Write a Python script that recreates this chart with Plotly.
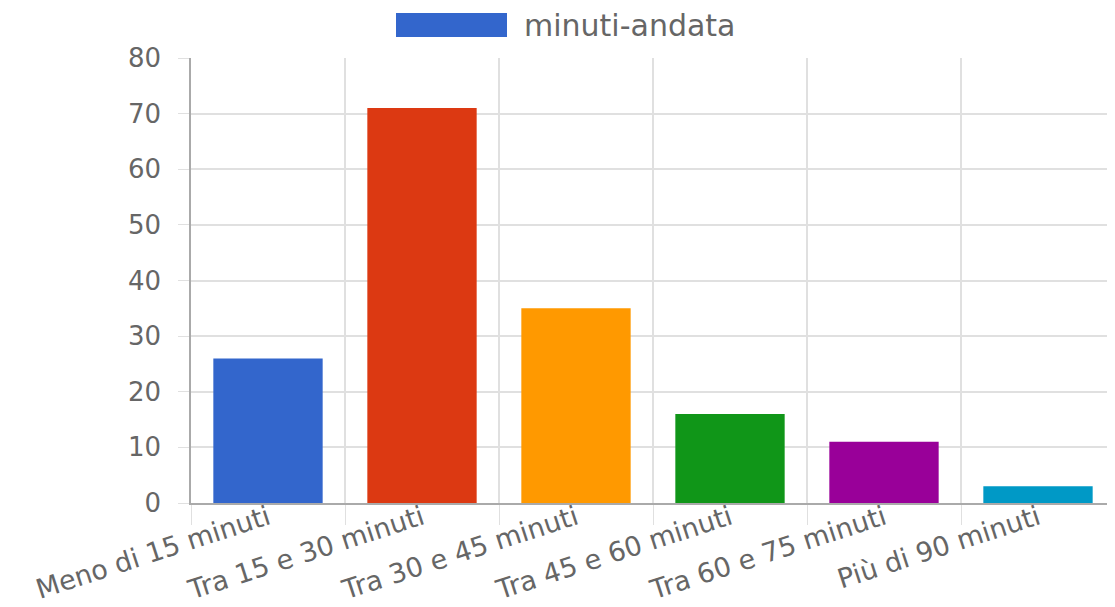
import plotly.graph_objects as go

categories = ["Meno di 15 minuti", "Tra 15 e 30 minuti", "Tra 30 e 45 minuti",
              "Tra 45 e 60 minuti", "Tra 60 e 75 minuti", "Più di 90 minuti"]
values = [26, 71, 35, 16, 11, 3]
colors = ["#3366CC", "#DC3912", "#FF9900", "#109618", "#990099", "#0099C6"]
series_name = "minuti-andata"
y_ticks = [0, 10, 20, 30, 40, 50, 60, 70, 80]

OFF = 8  # page body margin
W, H = 1115 - OFF, 607 - OFF
L, R, T, B = 191 - OFF, 0, 58 - OFF, 104
FONT = "DejaVu Sans"
TXT = "#666666"

fig = go.Figure()
fig.add_trace(go.Bar(x=categories, y=values, marker=dict(color=colors, line=dict(width=0)),
                     name=series_name, showlegend=False))

pw, ph = W - L - R, H - T - B
def px_x(x):
    return (x - OFF - L) / pw
def px_y(y):
    return (H - B - (y - OFF)) / ph

fig.add_shape(type="rect", xref="paper", yref="paper",
              x0=px_x(396), x1=px_x(507), y0=px_y(37), y1=px_y(13),
              fillcolor=colors[0], line=dict(width=0))
fig.add_annotation(text=series_name, xref="paper", yref="paper",
                   x=px_x(522), y=px_y(25), xanchor="left", yanchor="middle",
                   showarrow=False, font=dict(family=FONT, size=30, color=TXT))

fig.update_layout(
    width=W, height=H, margin=dict(l=L, r=R, t=T, b=B, autoexpand=False),
    plot_bgcolor="white", paper_bgcolor="white",
    bargap=0.29,
    font=dict(family=FONT, color=TXT),
    xaxis=dict(type="category", tickson="boundaries", showgrid=True, gridcolor="#e0e0e0",
               gridwidth=1.5, ticks="outside", ticklen=20, tickcolor="#e0e0e0",
               tickangle=-18, tickfont=dict(family=FONT, size=27, color=TXT),
               ticklabelstandoff=-13, automargin=False,
               showline=True, linecolor="#aaaaaa", linewidth=1.5, zeroline=False),
    yaxis=dict(range=[0, 80], tickvals=y_ticks, showgrid=True, gridcolor="#e0e0e0",
               gridwidth=1.5, ticks="outside", ticklen=11, tickcolor="#e0e0e0",
               tickfont=dict(family=FONT, size=26, color=TXT),
               ticklabelstandoff=12, automargin=False,
               showline=True, linecolor="#aaaaaa", linewidth=1.5, zeroline=False),
)

fig.write_html("out.html")
